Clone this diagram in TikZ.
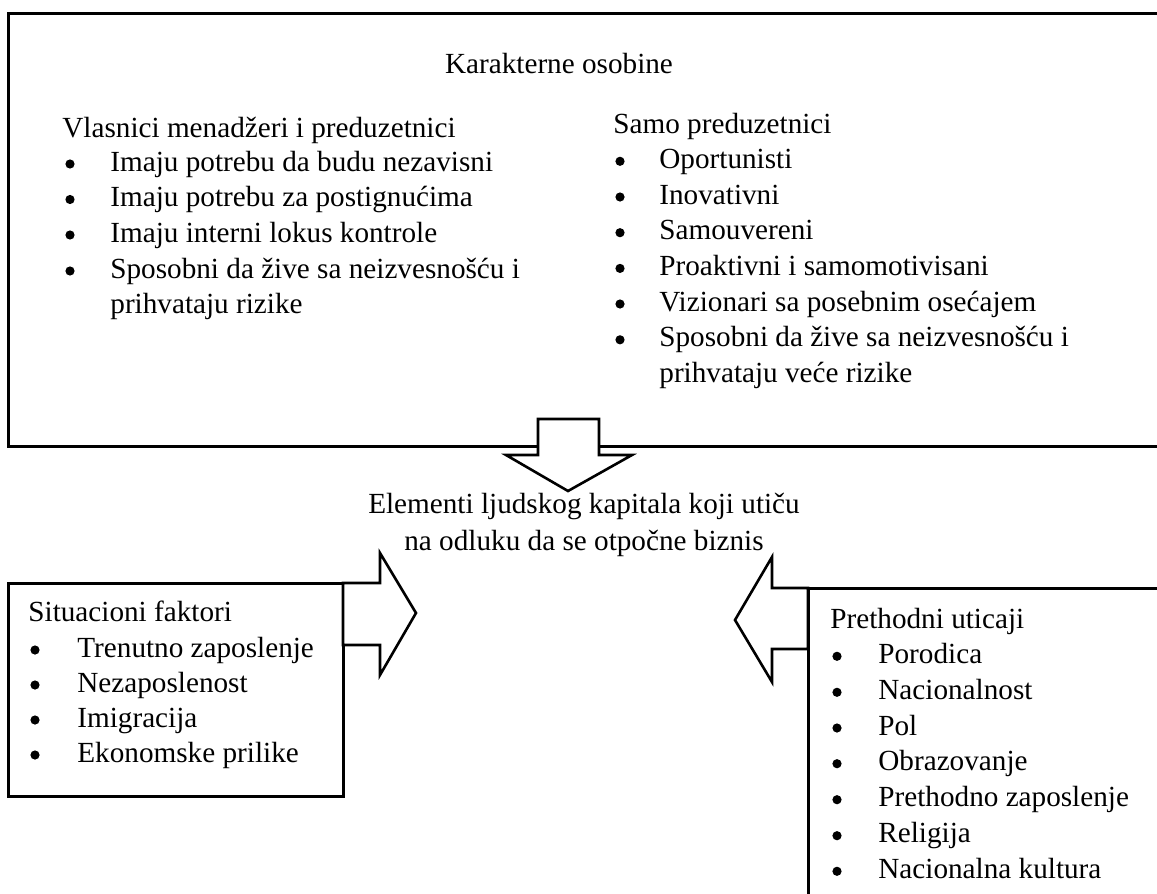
\documentclass[tikz,border=0pt]{standalone}
\usepackage{fontspec}
\setmainfont{Liberation Serif}
\begin{document}
\begin{tikzpicture}[x=0.5pt,y=-0.5pt,
  txt/.style={inner sep=0pt,anchor=base west,font=\fontsize{14.6pt}{17.5pt}\selectfont},
  ctxt/.style={inner sep=0pt,anchor=base,font=\fontsize{14.6pt}{17.5pt}\selectfont},
  bul/.style={circle,fill=black,inner sep=0pt,minimum size=4.6pt},
  boxline/.style={draw=black,line width=1.5pt},
  arrowshape/.style={draw=black,fill=white,line width=1.3pt,line join=miter}]
\useasboundingbox (0,0) rectangle (1157,894);
\clip (0,0) rectangle (1157,894);
\fill[white] (0,0) rectangle (1157,894);

% boxes
\coordinate (tbA) at (8,13);
\coordinate (tbB) at (1175,446);
\draw[boxline] (tbA) rectangle (tbB);
\coordinate (lbA) at (8,583);
\coordinate (lbB) at (343,796);
\draw[boxline] (lbA) rectangle (lbB);
\coordinate (rbA) at (808,588);
\coordinate (rbB) at (1175,915);
\draw[boxline] (rbA) rectangle (rbB);

% block arrows
\draw[arrowshape] (538,419) -- (599,419) -- (599,455) -- (632,455) -- (568,491)
  -- (506,455) -- (538,455) -- cycle;
\draw[arrowshape] (343,583) -- (380,583) -- (380,553) -- (416,613) -- (380,675)
  -- (380,645) -- (343,645) -- cycle;
\draw[arrowshape] (808,588) -- (772,588) -- (772,557) -- (735,620) -- (772,682)
  -- (772,649) -- (808,649) -- cycle;

% top box texts
\node[ctxt] (title) at (559,73) {Karakterne osobine};
\node[txt] (vh) at (62,137) {Vlasnici menadžeri i preduzetnici};
\foreach \y/\t [count=\i] in {171/{Imaju potrebu da budu nezavisni},206.5/{Imaju potrebu za postignućima},242/{Imaju interni lokus kontrole},278/{Sposobni da žive sa neizvesnošću i}}{
  \node[bul] (vb\i) at (70,{\y-7}) {};
  \node[txt] (vt\i) at (110,\y) {\t};
}
\node[txt] (vt5) at (110,313) {prihvataju rizike};

\node[txt] (sh) at (613,133) {Samo preduzetnici};
\foreach \y/\t [count=\i] in {168.3/{Oportunisti},204/{Inovativni},239.7/{Samouvereni},275.4/{Proaktivni i samomotivisani},311/{Vizionari sa posebnim osećajem},346.8/{Sposobni da žive sa neizvesnošću i}}{
  \node[bul] (sb\i) at (620,{\y-7}) {};
  \node[txt] (st\i) at (659,\y) {\t};
}
\node[txt] (st7) at (659,382.5) {prihvataju veće rizike};

% centre text
\node[ctxt] (el1) at (584,513) {Elementi ljudskog kapitala koji utiču};
\node[ctxt] (el2) at (584,550) {na odluku da se otpočne biznis};

% left box
\node[txt] (lh) at (28,621) {Situacioni faktori};
\foreach \y/\t [count=\i] in {657/{Trenutno zaposlenje},692/{Nezaposlenost},727/{Imigracija},762/{Ekonomske prilike}}{
  \node[bul] (lb\i) at (35,{\y-7}) {};
  \node[txt] (lt\i) at (77,\y) {\t};
}

% right box
\node[txt] (rh) at (830,628) {Prethodni uticaji};
\foreach \y/\t [count=\i] in {663.3/{Porodica},699.3/{Nacionalnost},735/{Pol},770.7/{Obrazovanje},806.7/{Prethodno zaposlenje},842.7/{Religija},878.3/{Nacionalna kultura}}{
  \node[bul] (rb\i) at (837,{\y-7}) {};
  \node[txt] (rt\i) at (878,\y) {\t};
}
\end{tikzpicture}
\end{document}
